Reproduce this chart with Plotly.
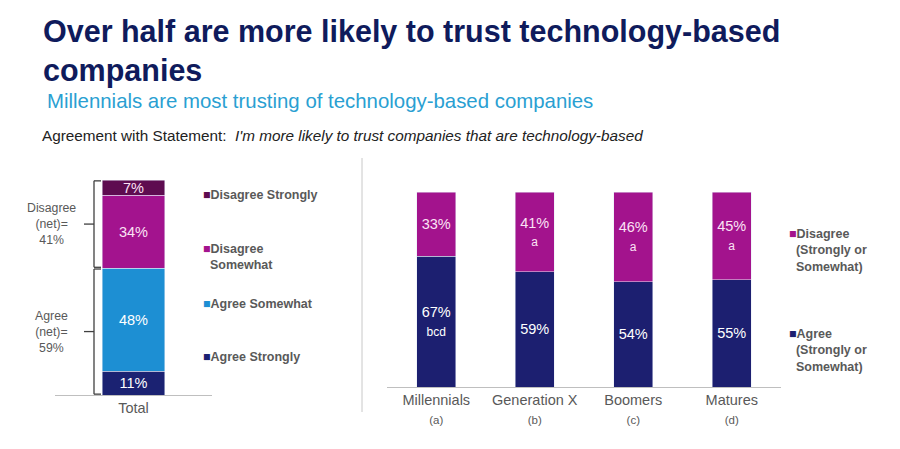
import plotly.graph_objects as go

# --- data ---
total_cat = ["Total"]
total_series = ["Agree Strongly", "Agree Somewhat", "Disagree Somewhat", "Disagree Strongly"]
total_vals = [11, 48, 34, 7]
total_colors = ["#1b2272", "#1d8fd3", "#a3138e", "#5e0c50"]

gen_cats = ["Millennials", "Generation X", "Boomers", "Matures"]
gen_ticks = ["(a)", "(b)", "(c)", "(d)"]
agree_vals = [67, 59, 54, 55]
agree_sig = ["bcd", "", "", ""]
disagree_vals = [33, 41, 46, 45]
disagree_sig = ["", "a", "a", "a"]

# page has an 8px body margin, so the figure is a bit smaller and shifted
OFF = 8
W, H = 900 - OFF, 449 - OFF


def px(x):
    return (x - OFF) / W


def py(y):
    return 1 - (y - OFF) / H


def lab(v, s):
    return f"{v}%" + (f"<br><span style='font-size:12px'>{s}</span>" if s else "")


fig = go.Figure()

# left chart: total
text_cols = ["white", "white", "#fbe2f5", "#fbe2f5"]
for name, v, c, tc in zip(total_series, total_vals, total_colors, text_cols):
    fig.add_trace(go.Bar(x=total_cat, y=[v], name=name, marker_color=c, width=0.4,
                         text=[f"{v}%"], textposition="inside", insidetextanchor="middle",
                         textangle=0, textfont=dict(color=tc, size=14.5),
                         xaxis="x", yaxis="y", showlegend=False))

# right chart: generations
fig.add_trace(go.Bar(x=gen_cats, y=agree_vals, name="Agree", marker_color="#1c1f70", width=0.4,
                     text=[lab(v, s) for v, s in zip(agree_vals, agree_sig)],
                     textposition="inside", insidetextanchor="middle", textangle=0,
                     textfont=dict(color="white", size=14.5), xaxis="x2", yaxis="y2", showlegend=False))
fig.add_trace(go.Bar(x=gen_cats, y=disagree_vals, name="Disagree", marker_color="#a3138d", width=0.4,
                     text=[lab(v, s) for v, s in zip(disagree_vals, disagree_sig)],
                     textposition="inside", insidetextanchor="middle", textangle=0,
                     textfont=dict(color="#fbe2f5", size=14.5), xaxis="x2", yaxis="y2", showlegend=False))

axis_font = dict(family="Liberation Sans, Arial", size=14.5, color="#595959")
fig.update_layout(
    width=W, height=H, barmode="stack",
    margin=dict(l=0, r=0, t=0, b=0),
    paper_bgcolor="white", plot_bgcolor="white",
    font=dict(family="Liberation Sans, Arial", color="#595959"),
    uniformtext=dict(minsize=12, mode="show"),
    xaxis=dict(domain=[px(55), px(212)], showline=True, linecolor="#bfbfbf", linewidth=1,
               ticks="", tickfont=axis_font, showgrid=False, zeroline=False),
    yaxis=dict(domain=[py(395), py(180)], range=[0, 100], visible=False),
    xaxis2=dict(domain=[px(387), px(781)], anchor="y2", showline=True, linecolor="#bfbfbf",
                linewidth=1, ticks="", tickfont=axis_font, showgrid=False, zeroline=False,
                tickmode="array", tickvals=gen_cats,
                ticktext=[f"{c}<br><span style='font-size:11.5px'>{t}</span>" for c, t in zip(gen_cats, gen_ticks)]),
    yaxis2=dict(domain=[py(387), py(192)], range=[0, 100], visible=False, anchor="x2"),
)

# titles
fig.add_annotation(x=px(41), y=py(31), xref="paper", yref="paper", xanchor="left", yanchor="middle",
                   showarrow=False, text="<b>Over half are more likely to trust technology-based</b>",
                   font=dict(family="Liberation Sans, Arial", size=30.5, color="#0f1b5c"))
fig.add_annotation(x=px(41), y=py(70), xref="paper", yref="paper", xanchor="left", yanchor="middle",
                   showarrow=False, text="<b>companies</b>",
                   font=dict(family="Liberation Sans, Arial", size=30.5, color="#0f1b5c"))
fig.add_annotation(x=px(45), y=py(101), xref="paper", yref="paper", xanchor="left", yanchor="middle",
                   showarrow=False, text="Millennials are most trusting of technology-based companies",
                   font=dict(family="Liberation Sans, Arial", size=20.4, color="#2a9fd2"))
fig.add_annotation(x=px(40), y=py(136), xref="paper", yref="paper", xanchor="left", yanchor="middle",
                   showarrow=False,
                   text="Agreement with Statement:  <i>I'm more likely to trust companies that are technology-based</i>",
                   font=dict(family="Liberation Sans, Arial", size=15.3, color="#222222"))

# brackets on the total bar
agree_net = total_vals[0] + total_vals[1]
disagree_net = total_vals[2] + total_vals[3]
bx, bx2, bx0 = px(94), px(101), px(84)
for lo, hi in [(0, agree_net), (agree_net, agree_net + disagree_net)]:
    mid = (lo + hi) / 2
    fig.add_shape(type="line", xref="paper", yref="y", x0=bx, x1=bx, y0=lo + 0.4, y1=hi - 0.4,
                  line=dict(color="#404040", width=1.3))
    fig.add_shape(type="line", xref="paper", yref="y", x0=bx, x1=bx2, y0=lo + 0.4, y1=lo + 0.4,
                  line=dict(color="#404040", width=1.3))
    fig.add_shape(type="line", xref="paper", yref="y", x0=bx, x1=bx2, y0=hi - 0.4, y1=hi - 0.4,
                  line=dict(color="#404040", width=1.3))
    fig.add_shape(type="line", xref="paper", yref="y", x0=bx0, x1=bx, y0=mid, y1=mid,
                  line=dict(color="#404040", width=1.3))

for val, mid, word in [(disagree_net, agree_net + disagree_net / 2, "Disagree"),
                       (agree_net, agree_net / 2, "Agree")]:
    fig.add_annotation(x=px(51), y=mid, xref="paper", yref="y", xanchor="center", yanchor="middle",
                       showarrow=False, text=f"{word}<br>(net)=<br>{val}%", align="center",
                       font=dict(size=12.3, color="#595959"))

# custom legends
def legend_item(x, y, color, label):
    fig.add_annotation(x=px(x), y=py(y), xref="paper", yref="paper", xanchor="left", yanchor="top",
                       showarrow=False, align="left",
                       text=f"<span style='color:{color}'>■</span>{label}",
                       font=dict(family="Liberation Sans, Arial", size=12.5, color="#595959"))

legend_item(201, 186, total_colors[3], "<b>Disagree Strongly</b>")
legend_item(201, 240, total_colors[2], "<b>Disagree<br>  Somewhat</b>")
legend_item(201, 295, total_colors[1], "<b>Agree Somewhat</b>")
legend_item(201, 348, total_colors[0], "<b>Agree Strongly</b>")
legend_item(787, 225, "#a3138d", "<b>Disagree<br>  (Strongly or<br>  Somewhat)</b>")
legend_item(787, 325, "#1c1f70", "<b>Agree<br>  (Strongly or<br>  Somewhat)</b>")

# divider
fig.add_shape(type="line", xref="paper", yref="paper", x0=px(362), x1=px(362), y0=py(158), y1=py(412),
              line=dict(color="#c8c8c8", width=1))

fig.write_html("out.html")
